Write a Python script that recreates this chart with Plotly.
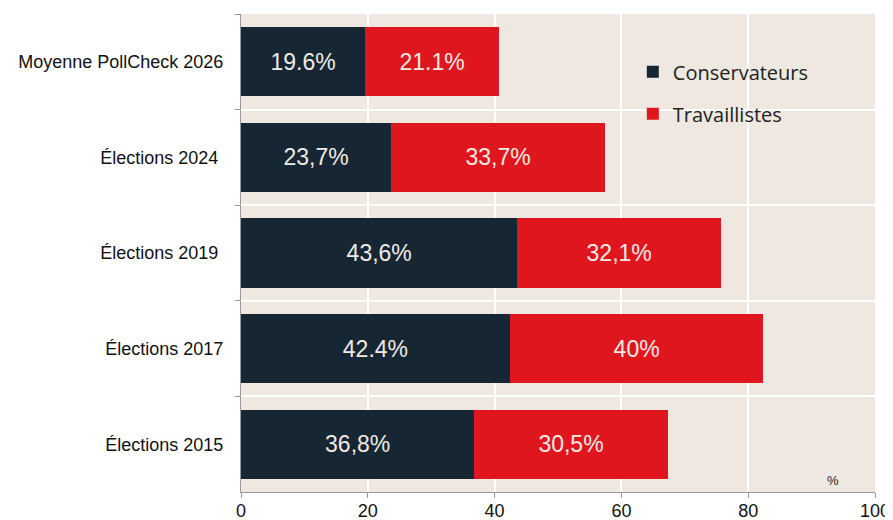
import plotly.graph_objects as go

categories = ["Moyenne PollCheck 2026", "Élections 2024\u00a0", "Élections 2019\u00a0", "Élections 2017", "Élections 2015"]
conservateurs = [19.6, 23.7, 43.6, 42.4, 36.8]
travaillistes = [21.1, 33.7, 32.1, 40, 30.5]
cons_labels = ["19.6%", "23,7%", "43,6%", "42.4%", "36,8%"]
trav_labels = ["21.1%", "33,7%", "32,1%", "40%", "30,5%"]
x_ticks = [0, 20, 40, 60, 80, 100]

NAVY = "#172633"
RED = "#E0161F"
BG = "#EEE8E1"
TXT = "#F0EAE4"

fig = go.Figure()
fig.add_trace(go.Bar(
    y=categories, x=conservateurs, orientation="h", name="Conservateurs",
    marker=dict(color=NAVY, line=dict(width=0)),
    text=cons_labels, textposition="inside", insidetextanchor="middle",
    textfont=dict(family="Liberation Sans, Arial", size=23, color=TXT),
    legendgroup="a",
))
fig.add_trace(go.Bar(
    y=categories, x=travaillistes, orientation="h", name="Travaillistes",
    marker=dict(color=RED, line=dict(width=0)),
    text=trav_labels, textposition="inside", insidetextanchor="middle",
    textfont=dict(family="Liberation Sans, Arial", size=23, color=TXT),
    legendgroup="b",
))

# the page body adds an 8px offset, so the figure is 8px smaller
fig.update_layout(
    barmode="stack",
    bargap=0.275,
    width=885, height=512,
    margin=dict(l=233, r=18, t=6, b=28),
    paper_bgcolor="white",
    plot_bgcolor=BG,
    uniformtext=dict(mode="show", minsize=10),
    legend=dict(
        x=0.618, y=0.92, xanchor="left", yanchor="top",
        bgcolor="rgba(0,0,0,0)",
        font=dict(family="Open Sans, Lato, sans-serif", size=20, color="#222222"),
        tracegroupgap=13,
        itemwidth=30,
    ),
    font=dict(family="Liberation Sans, Arial", size=18, color="#111111"),
    annotations=[dict(
        x=93.4, y=0.005, xref="x", yref="paper", text="%", showarrow=False,
        xanchor="center", yanchor="bottom",
        font=dict(family="Liberation Sans, Arial", size=13, color="#222222"),
    )],
)
fig.update_xaxes(
    range=[0, 100], tickvals=x_ticks, ticks="outside", ticklen=5,
    tickcolor="#999999", showline=True, linecolor="#999999", linewidth=1,
    showgrid=True, gridcolor="white", gridwidth=1.5, zeroline=False,
    ticklabelstandoff=-3,
    tickfont=dict(family="Liberation Sans, Arial", size=18, color="#111111"),
    automargin=False,
)
fig.update_yaxes(
    type="category", autorange="reversed", tickson="boundaries",
    ticks="outside", ticklen=5, tickcolor="#999999",
    showline=True, linecolor="#999999", linewidth=1,
    showgrid=True, gridcolor="white", gridwidth=1.5,
    ticklabelstandoff=13,
    tickfont=dict(family="Liberation Sans, Arial", size=18, color="#111111"),
    automargin=False,
)

fig.write_html("out.html")
